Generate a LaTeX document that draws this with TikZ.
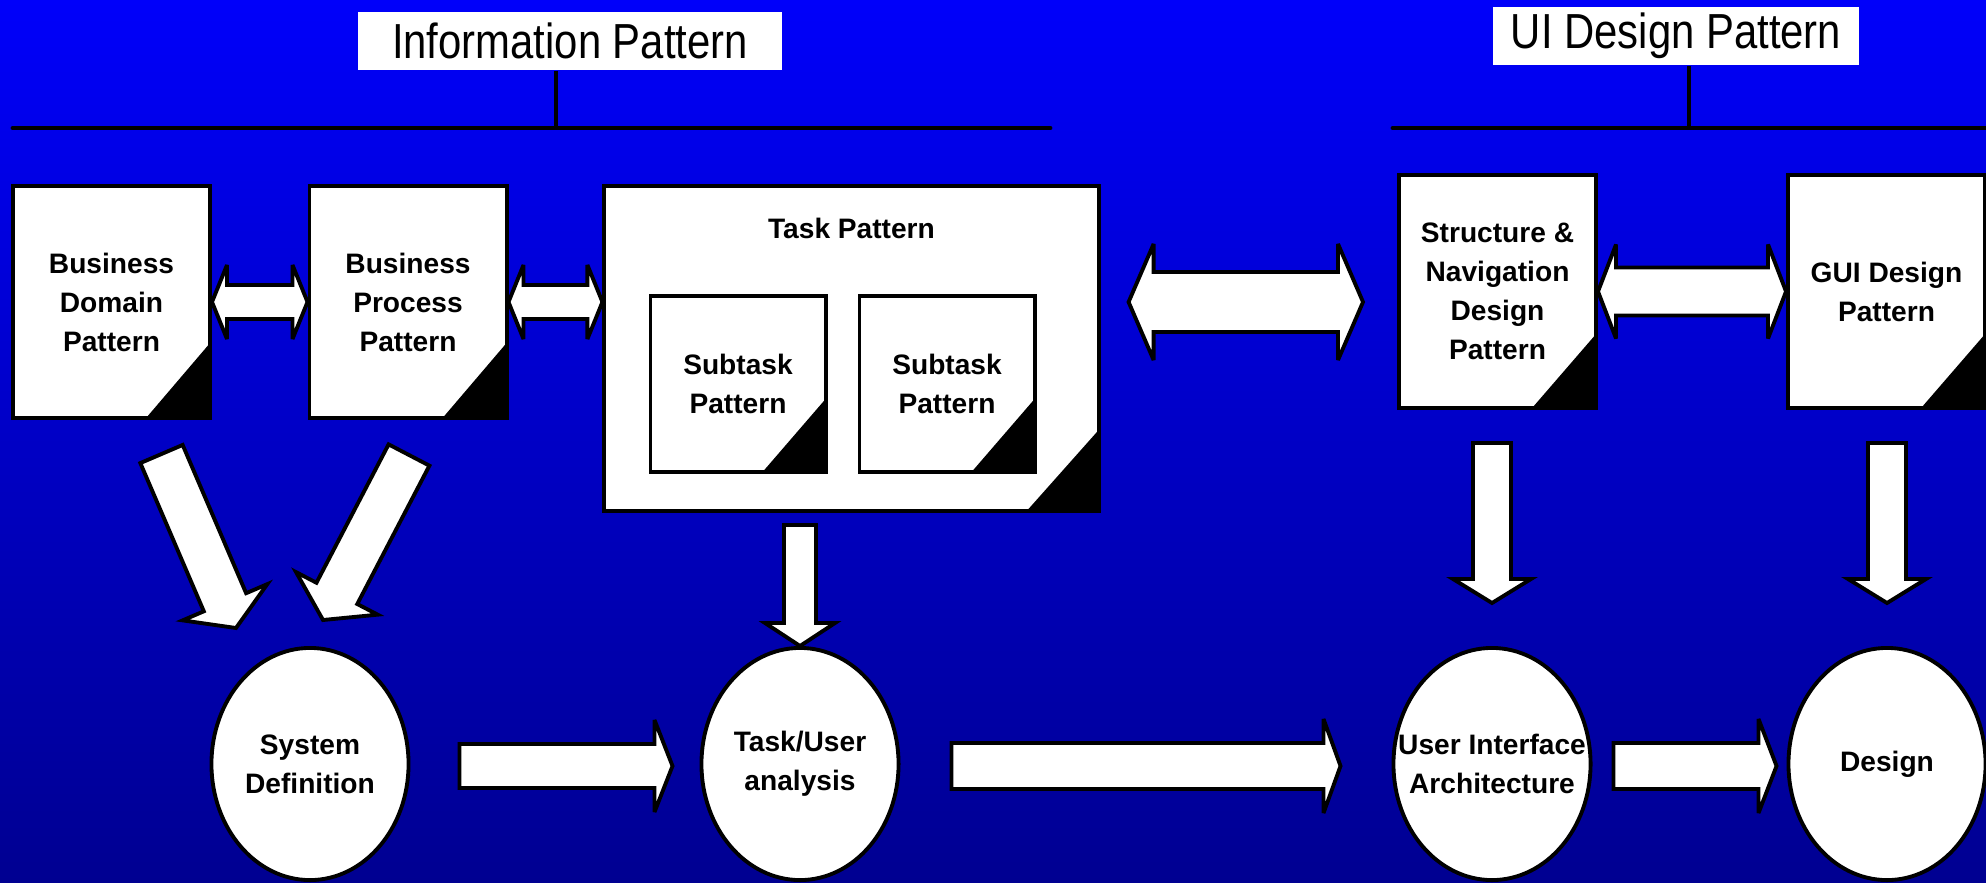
\documentclass[tikz,border=0pt]{standalone}
\usepackage{fontspec}
\setmainfont{Liberation Sans}
\newfontfamily\headfont[FakeStretch=0.85]{Liberation Sans}
\usetikzlibrary{shapes.geometric,calc}

\definecolor{slidetop}{RGB}{0,0,250}
\definecolor{slidebot}{RGB}{0,0,145}

\newcommand\labelfont{\bfseries\fontsize{8}{11.1}\selectfont}

\tikzset{
  every doc/.style={draw, fill=white, line width=1.1pt, inner sep=0pt, align=center, font=\labelfont},
  doc fold/.style 2 args={path picture={\fill [black] (path picture bounding box.south east) -- ++(-#1,0) -- ++(#1,#2) -- cycle;}},
  every stage/.style={ellipse, draw, fill=white, line width=1.1pt, minimum width=1.97cm, minimum height=2.32cm, inner sep=0pt},
  stage text/.style={align=center, font=\labelfont},
  head/.style={fill=white, inner sep=0pt, minimum height=0.58cm, font=\headfont\fontsize{14}{16}\selectfont},
  head rule/.style={line width=1.4pt, line cap=round},
  head link/.style={line width=0.9pt},
  block arrow/.style={draw=black, fill=white, line width=1.1pt, line join=miter, miter limit=4}
}

% tail, tip, half shaft, half head, head length
\newcommand\blockarrow[5]{%
  \coordinate (ba-h) at ($(#2)!#5!(#1)$);
  \draw [block arrow] ($(#1)!#3!90:(#2)$) -- ($(ba-h)!#3!90:(#2)$) -- ($(ba-h)!#4!90:(#2)$)
    -- (#2) -- ($(ba-h)!#4!-90:(#2)$) -- ($(ba-h)!#3!-90:(#2)$) -- ($(#1)!#3!-90:(#2)$) -- cycle;}

% tip, tip, half shaft, half head, head length
\newcommand\dblockarrow[5]{%
  \coordinate (da-a) at ($(#1)!#5!(#2)$);
  \coordinate (da-b) at ($(#2)!#5!(#1)$);
  \draw [block arrow] (#1) -- ($(da-a)!#4!90:(#2)$) -- ($(da-a)!#3!90:(#2)$)
    -- ($(da-b)!#3!-90:(#1)$) -- ($(da-b)!#4!-90:(#1)$) -- (#2)
    -- ($(da-b)!#4!90:(#1)$) -- ($(da-b)!#3!90:(#1)$)
    -- ($(da-a)!#3!-90:(#2)$) -- ($(da-a)!#4!-90:(#2)$) -- cycle;}

\begin{document}
\begin{tikzpicture}[x=0.01cm, y=-0.01cm]

\shade [top color=slidetop, bottom color=slidebot] (0,0) rectangle (1986,882);
\useasboundingbox (0,0) rectangle (1986,882);

% headings
\node [head, minimum width=4.24cm] (infohead) at (570,41) {Information Pattern};
\node [head, minimum width=3.65cm] (uihead) at (1676,36) {UI Design Pattern};

\coordinate (info-w) at (13,128);
\coordinate (info-e) at (1050,128);
\coordinate (info-m) at (556,128);
\coordinate (ui-w) at (1393,128);
\coordinate (ui-e) at (1992,128);
\coordinate (ui-m) at (1689,128);

\draw [head rule] (info-w) -- (info-e);
\draw [head rule] (ui-w) -- (ui-e);
\draw [head link] (info-m |- infohead.south) -- (info-m);
\draw [head link] (ui-m |- uihead.south) -- (ui-m);

% pattern documents
\foreach \n/\x/\t in {bdom/111.5/{Business\\Domain\\Pattern}, bproc/408/{Business\\Process\\Pattern}}
  \node [every doc, minimum width=1.97cm, minimum height=2.32cm, doc fold={0.64cm}{0.75cm}] (\n) at (\x,302) {\t};

\node [every doc, minimum width=4.94cm, minimum height=3.25cm, doc fold={0.72cm}{0.81cm}] (task) at (851.5,348.5) {};
\node [font=\labelfont] (task-title) at ($(task.north)+(0,44)$) {Task Pattern};

\foreach \n/\x in {sub1/738, sub2/947}
  \node [every doc, minimum width=1.75cm, minimum height=1.76cm, doc fold={0.63cm}{0.73cm}] (\n) at (\x,384) {Subtask\\Pattern};

\node [every doc, minimum width=1.97cm, minimum height=2.33cm, doc fold={0.64cm}{0.74cm}] (snav) at (1497.5,291.5)
  {Structure \&\\Navigation\\Design\\Pattern};
\node [every doc, minimum width=1.97cm, minimum height=2.33cm, doc fold={0.64cm}{0.74cm}] (gui) at (1886.5,291.5)
  {GUI Design\\Pattern};

% stages
\foreach \n/\x/\t in {sysdef/310/{System\\Definition}, taskuser/800/{Task/User\\analysis},
                      uia/1492/{User Interface\\Architecture}, design/1887/{Design}} {
  \node [every stage] (\n) at (\x,764) {};
  \node [stage text] (\n-text) at (\n) {\t};
}

% arrow ends
\coordinate (d1-tail) at ($(bdom.south)+(50,34)$);
\coordinate (d1-tip) at ($(sysdef.north)+(-74,-18)$);
\coordinate (d2-tail) at ($(bproc.south)+(1,35)$);
\coordinate (d2-tip) at ($(sysdef.north)+(13,-26)$);
\coordinate (t-tail) at ($(taskuser |- task.south)+(0,12)$);
\coordinate (s-tail) at ($(uia |- snav.south)+(0,33)$);
\coordinate (s-tip) at ($(uia.north)+(0,-43)$);
\coordinate (g-tail) at ($(design |- gui.south)+(0,33)$);
\coordinate (g-tip) at ($(design.north)+(0,-43)$);
\coordinate (h1-tail) at ($(sysdef.east)+(49,2)$);
\coordinate (h1-tip) at ($(taskuser.west)+(-27,2)$);
\coordinate (h2-tail) at ($(taskuser.east)+(51,2)$);
\coordinate (h2-tip) at ($(uia.west)+(-51,2)$);
\coordinate (h3-tail) at ($(uia.east)+(21,2)$);
\coordinate (h3-tip) at ($(design.west)+(-10,2)$);
\coordinate (tn-w) at ($(task.east |- bproc.east)+(28,0)$);
\coordinate (tn-e) at ($(snav.west |- bproc.east)+(-34,0)$);

% block arrows
\dblockarrow{bdom.east}{bproc.west}{0.17cm}{0.37cm}{0.15cm}
\dblockarrow{bproc.east}{task.west |- bproc.east}{0.17cm}{0.37cm}{0.15cm}
\dblockarrow{tn-w}{tn-e}{0.30cm}{0.58cm}{0.25cm}
\dblockarrow{snav.east}{gui.west}{0.24cm}{0.47cm}{0.18cm}

\blockarrow{d1-tail}{d1-tip}{0.23cm}{0.46cm}{0.28cm}
\blockarrow{d2-tail}{d2-tip}{0.23cm}{0.46cm}{0.30cm}
\blockarrow{t-tail}{taskuser.north}{0.16cm}{0.35cm}{0.23cm}
\blockarrow{s-tail}{s-tip}{0.19cm}{0.39cm}{0.24cm}
\blockarrow{g-tail}{g-tip}{0.19cm}{0.39cm}{0.24cm}
\blockarrow{h1-tail}{h1-tip}{0.22cm}{0.46cm}{0.18cm}
\blockarrow{h2-tail}{h2-tip}{0.23cm}{0.47cm}{0.17cm}
\blockarrow{h3-tail}{h3-tip}{0.23cm}{0.47cm}{0.18cm}

\end{tikzpicture}
\end{document}
